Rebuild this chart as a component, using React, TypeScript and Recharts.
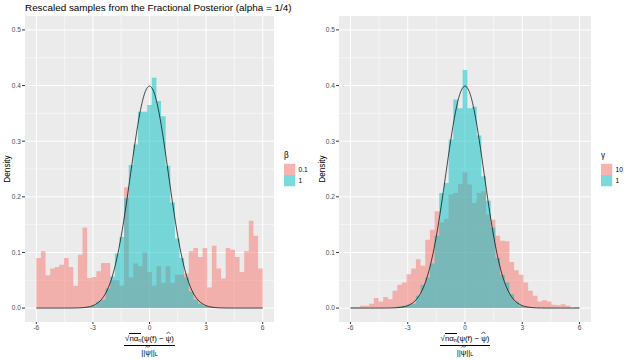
import React from "react";
import { Area, CartesianGrid, ComposedChart, Line, XAxis, YAxis } from "recharts";

// histogram bins: 49 equal bins over [-6, 6]
const binStart = -6;
const binEnd = 6;
const binCount = 49;

// left panel, beta = 0.1 (red) and beta = 1 (cyan), density per bin
const betaSmall = [
  0.09, 0.102, 0.059, 0.071, 0.074, 0.078, 0.09, 0.074, 0.04, 0.096,
  0.145, 0.054, 0.056, 0.066, 0.081, 0.081, 0.05, 0.05, 0.04, 0.217,
  0.055, 0.08, 0.075, 0.1, 0.065, 0.04, 0.075, 0.045, 0.075, 0.045,
  0.06, 0.06, 0.062, 0.102, 0.108, 0.092, 0.108, 0.037, 0.112, 0.071,
  0.053, 0.108, 0.105, 0.092, 0.065, 0.102, 0.157, 0.13, 0.071,
];
const betaOne = [
  0, 0, 0, 0, 0, 0, 0, 0, 0, 0,
  0.001, 0.002, 0.004, 0.012, 0.015, 0.035, 0.057, 0.098, 0.128, 0.198,
  0.257, 0.294, 0.353, 0.353, 0.365, 0.414, 0.372, 0.345, 0.256, 0.19,
  0.125, 0.09, 0.055, 0.03, 0.015, 0.008, 0.004, 0.002, 0.001, 0,
  0, 0, 0, 0, 0, 0, 0, 0, 0,
];

// right panel, gamma = 10 (red) and gamma = 1 (cyan)
const gammaTen = [
  0.002, 0.002, 0.004, 0.004, 0.008, 0.018, 0.012, 0.02, 0.016, 0.031,
  0.042, 0.046, 0.061, 0.071, 0.088, 0.076, 0.123, 0.141, 0.174, 0.154,
  0.16, 0.204, 0.207, 0.223, 0.244, 0.222, 0.189, 0.207, 0.21, 0.168,
  0.159, 0.13, 0.121, 0.12, 0.083, 0.068, 0.06, 0.046, 0.031, 0.022,
  0.012, 0.014, 0.012, 0.006, 0.005, 0.007, 0.004, 0.001, 0.002,
];
const gammaOne = [
  0, 0, 0, 0, 0, 0, 0, 0, 0, 0.001,
  0.003, 0.004, 0.006, 0.008, 0.022, 0.042, 0.055, 0.08, 0.13, 0.207,
  0.225, 0.303, 0.375, 0.359, 0.428, 0.359, 0.362, 0.31, 0.237, 0.193,
  0.145, 0.09, 0.06, 0.046, 0.025, 0.012, 0.004, 0.002, 0.001, 0,
  0, 0, 0, 0, 0, 0, 0, 0, 0,
];

// standard normal reference curve
const curveX = [
  -6, -5, -4.5, -4, -3.75, -3.5, -3.25, -3, -2.75, -2.5, -2.25, -2, -1.75, -1.5, -1.25, -1, -0.75, -0.5, -0.25,
  0, 0.25, 0.5, 0.75, 1, 1.25, 1.5, 1.75, 2, 2.25, 2.5, 2.75, 3, 3.25, 3.5, 3.75, 4, 4.5, 5, 6,
];
const curveY = [
  0, 0.0000015, 0.000016, 0.00013, 0.00035, 0.00087, 0.00203, 0.00443, 0.00909, 0.01753, 0.03174, 0.05399,
  0.08628, 0.12952, 0.18265, 0.24197, 0.30114, 0.35207, 0.38667,
  0.39894, 0.38667, 0.35207, 0.30114, 0.24197, 0.18265, 0.12952, 0.08628, 0.05399, 0.03174, 0.01753,
  0.00909, 0.00443, 0.00203, 0.00087, 0.00035, 0.00013, 0.000016, 0.0000015, 0,
];

const xTicks = [-6, -3, 0, 3, 6];
const xMinor = [-4.5, -1.5, 1.5, 4.5];
const yTicks = [0, 0.1, 0.2, 0.3, 0.4, 0.5];
const yMinor = [0.05, 0.15, 0.25, 0.35, 0.45];

const RED = "#F8766D";
const CYAN = "#00BFC4";
const FONT = "'Liberation Sans', Arial, Helvetica, sans-serif";

function stepRows(heights: number[]) {
  const w = (binEnd - binStart) / binCount;
  const rows = heights.map((h, i) => ({ x: binStart + i * w, y: h }));
  rows.push({ x: binEnd, y: heights[heights.length - 1] });
  return rows;
}

const curveRows = curveX.map((x, i) => ({ x, y: curveY[i] }));

function Panel({ left, width, red, cyan }: { left: number; width: number; red: number[]; cyan: number[] }) {
  return (
    <div style={{ position: "absolute", left, top: 0 }}>
      <ComposedChart width={width} height={360} margin={{ top: 16, right: 0, bottom: 0, left: 0 }}>
        <CartesianGrid fill="#EBEBEB" fillOpacity={1} stroke="#FFFFFF" strokeWidth={0.5} horizontalValues={yMinor} verticalValues={xMinor} />
        <CartesianGrid stroke="#FFFFFF" strokeWidth={1} horizontalValues={yTicks} verticalValues={xTicks} />
        <XAxis
          type="number"
          dataKey="x"
          domain={[-6.6, 6.6]}
          allowDataOverflow
          ticks={xTicks}
          interval={0}
          height={38}
          axisLine={false}
          tickSize={2}
          tickMargin={1}
          tickLine={{ stroke: "#333333" }}
          tick={{ fill: "#4D4D4D", fontSize: 6.6 }}
        />
        <YAxis
          type="number"
          domain={[-0.025, 0.525]}
          allowDataOverflow
          ticks={yTicks}
          interval={0}
          width={25}
          axisLine={false}
          tickSize={3}
          tickMargin={1}
          tickLine={{ stroke: "#333333" }}
          tick={{ fill: "#4D4D4D", fontSize: 6.6 }}
          tickFormatter={(v: number) => v.toFixed(1)}
        />
        <Area data={stepRows(red)} type="stepAfter" dataKey="y" stroke="none" fill={RED} fillOpacity={0.5} isAnimationActive={false} />
        <Area data={stepRows(cyan)} type="stepAfter" dataKey="y" stroke="none" fill={CYAN} fillOpacity={0.5} isAnimationActive={false} />
        <Line data={curveRows} type="monotone" dataKey="y" stroke="#000000" strokeWidth={0.7} dot={false} isAnimationActive={false} />
      </ComposedChart>
    </div>
  );
}

// psi with a small hat or tilde drawn as a path above it
function Accented({ base, mark }: { base: string; mark: "hat" | "tilde" }) {
  const d = mark === "hat" ? "M0.5 3 L2.5 0.8 L4.5 3" : "M0.3 2.5 Q1.4 0.6 2.5 1.8 Q3.6 3 4.7 1";
  return (
    <span style={{ position: "relative", display: "inline-block" }}>
      {base}
      <svg width={5} height={3.5} style={{ position: "absolute", left: "50%", marginLeft: -2.5, top: -2.6, overflow: "visible" }}>
        <path d={d} fill="none" stroke="#000" strokeWidth={0.6} />
      </svg>
    </span>
  );
}

function AxisTitle({ cx }: { cx: number }) {
  const sub = { fontSize: "0.7em", position: "relative" as const, top: "0.25em" };
  return (
    <div style={{ position: "absolute", left: cx - 60, width: 120, top: 334, textAlign: "center", fontSize: 7.8, lineHeight: "9px", color: "#000" }}>
      <div style={{ display: "inline-block" }}>
        <div style={{ padding: "0 1px 1px", whiteSpace: "nowrap" }}>
          <span>√</span>
          <span style={{ borderTop: "0.6px solid #000" }}>
            nα<span style={sub}>n</span>
          </span>
          (ψ(f) − <Accented base="ψ" mark="hat" />)
        </div>
        <div style={{ borderTop: "0.7px solid #000", whiteSpace: "nowrap", paddingTop: 2 }}>
          ||<Accented base="ψ" mark="tilde" />||<span style={sub}>L</span>
        </div>
      </div>
    </div>
  );
}

function LegendBlock({ x, title, labels }: { x: number; title: string; labels: string[] }) {
  return (
    <g>
      <text x={x} y={157.5} fontSize={8.2} fill="#000">{title}</text>
      {[RED, CYAN].map((c, i) => (
        <g key={c}>
          <rect x={x} y={163.8 + i * 11.2} width={11.2} height={11.2} fill="#F2F2F2" />
          <rect x={x} y={163.8 + i * 11.2} width={11.2} height={11.2} fill={c} fillOpacity={0.5} />
          <text x={x + 14.5} y={171.6 + i * 11.2} fontSize={6.6} fill="#000">{labels[i]}</text>
        </g>
      ))}
    </g>
  );
}

export default function App() {
  return (
    <div style={{ position: "absolute", left: 0, top: 0, width: 630, height: 360, background: "#FFFFFF", fontFamily: FONT, overflow: "hidden" }}>
      <Panel left={0} width={274} red={betaSmall} cyan={betaOne} />
      <Panel left={314} width={277} red={gammaTen} cyan={gammaOne} />
      <svg width={630} height={360} style={{ position: "absolute", left: 0, top: 0, pointerEvents: "none" }}>
        <text x={25} y={11} fontSize={9.9} fill="#000">Rescaled samples from the Fractional Posterior (alpha = 1/4)</text>
        <text x={9.8} y={169} fontSize={8.2} fill="#000" textAnchor="middle" transform="rotate(-90 9.8 169)">Density</text>
        <text x={324.5} y={169} fontSize={8.2} fill="#000" textAnchor="middle" transform="rotate(-90 324.5 169)">Density</text>
        <LegendBlock x={284} title="β" labels={["0.1", "1"]} />
        <LegendBlock x={601} title="γ" labels={["10", "1"]} />
      </svg>
      <AxisTitle cx={149.5} />
      <AxisTitle cx={465} />
    </div>
  );
}
